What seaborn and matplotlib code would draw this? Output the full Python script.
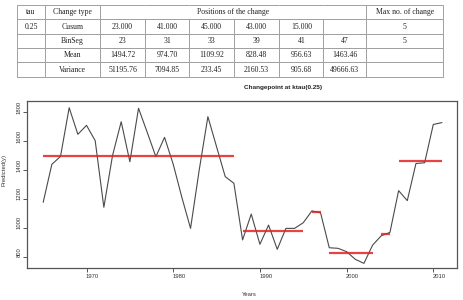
import numpy as np
import pandas as pd
import seaborn as sns
import matplotlib.pyplot as plt
from matplotlib.transforms import ScaledTranslation

# series
years = list(range(1965, 2012))
predicted = [1176, 1439, 1494, 1831, 1647, 1709, 1603, 1142, 1500, 1734,
             1457, 1827, 1661, 1492, 1626, 1440, 1210, 996, 1400, 1769,
             1561, 1354, 1308,
             916, 1095, 886, 1019, 851, 996, 996, 1035,
             1117, 1103,
             862, 858, 835, 782, 754, 880,
             945, 968,
             1257, 1188, 1445, 1450, 1715, 1728]

# BinSeg change points (1-based end index of each segment) and segment means
seg_ends = [23, 31, 33, 39, 41, 47]
seg_means = [1494.72, 974.70, 1109.92, 828.48, 956.63, 1463.46]

# table contents
tbl_header = ["tau", "Change type", "Positions of the change", "Max no. of change"]
tbl_rows = [
    ["0.25", "Cusum", "23.000", "41.000", "45.000", "43.000", "15.000", "", "5"],
    ["", "BinSeg", "23", "31", "33", "39", "41", "47", "5"],
    ["", "Mean", "1494.72", "974.70", "1109.92", "828.48", "956.63", "1463.46", ""],
    ["", "Variance", "51195.76", "7094.85", "233.45", "2160.53", "905.68", "49666.63", ""],
]

df = pd.DataFrame({"Years": years, "Predicted(y)": predicted})

sns.set_theme(style="ticks")
plt.rcParams['font.family'] = ['Liberation Sans', 'DejaVu Sans']

W, H = 463, 300
fig = plt.figure(figsize=(W / 100, H / 100), dpi=100)

# ---- table ----
tax = fig.add_axes([17.3 / W, 1 - 76.7 / H, (443.3 - 17.3) / W, (76.7 - 5) / H])
tax.axis("off")
col_w = np.array([27.7, 55, 45, 44.3, 44.7, 45.3, 44, 42.7, 77.3])
col_w = col_w / col_w.sum()
head = [tbl_header[0], tbl_header[1]] + [""] * 6 + [tbl_header[3]]
table = tax.table(cellText=[head] + tbl_rows, colWidths=list(col_w),
                  cellLoc="center", bbox=[0, 0, 1, 1])
table.auto_set_font_size(False)
for (r, c), cell in table.get_celld().items():
    cell.set_edgecolor("#a0a0a0")
    cell.set_linewidth(0.7)
    cell.get_text().set_fontfamily("Liberation Serif")
    cell.get_text().set_fontsize(5.6)
    cell.get_text().set_color("#222222")
    if r == 0 and 2 <= c <= 7:
        cell.visible_edges = "BTL" if c == 2 else ("BTR" if c == 7 else "BT")
mid = col_w[:2].sum() + col_w[2:8].sum() / 2
tax.text(mid, 1 - 0.5 / 5, tbl_header[2], ha="center", va="center",
         fontsize=5.6, family="Liberation Serif", color="#222222",
         transform=tax.transAxes)

# ---- line chart ----
ax = fig.add_axes([26.7 / W, 1 - 268.3 / H, (456.7 - 26.7) / W, (268.3 - 100.7) / H])
sns.lineplot(data=df, x="Years", y="Predicted(y)", ax=ax, color="#4a4a4a", linewidth=0.8)

starts = [0] + seg_ends[:-1]
for s, e, m in zip(starts, seg_ends, seg_means):
    ax.hlines(m, years[s], years[e - 1], colors="#e32222", linewidth=1.6, alpha=0.85, zorder=3)

ax.set_xlim(1963.1, 2012.7)
ax.set_ylim(719.7, 1879.5)
ax.set_xticks([1970, 1980, 1990, 2000, 2010])
ax.set_yticks([800, 1000, 1200, 1400, 1600, 1800])
ax.set_xlabel("")
ax.set_ylabel("")
for side in ["top", "right", "left", "bottom"]:
    ax.spines[side].set_visible(True)
    ax.spines[side].set_color("#555555")
    ax.spines[side].set_linewidth(0.9)
ax.tick_params(axis="both", length=3, width=0.7, color="#555555",
               labelsize=4.2, labelcolor="#333333", pad=5)
for lab in ax.get_yticklabels():
    lab.set_rotation(90)
    lab.set_va("center")
shift = ScaledTranslation(6 / 100, 5 / 100, fig.dpi_scale_trans)
for lab in ax.get_xticklabels() + ax.get_yticklabels():
    lab.set_transform(lab.get_transform() + shift)

fig.text(283 / W, 1 - 87.3 / H, "Changepoint at ktau(0.25)", ha="center", va="center",
         fontsize=4.6, fontweight="bold", color="#222222")
fig.text(249 / W, 1 - 294 / H, "Years", ha="center", va="center", fontsize=4.2, color="#333333")
fig.text(4 / W, 1 - 170 / H, "Predicted(y)", ha="center", va="center", rotation=90,
         fontsize=4.2, color="#333333")

fig.savefig("out.png", dpi=100)
